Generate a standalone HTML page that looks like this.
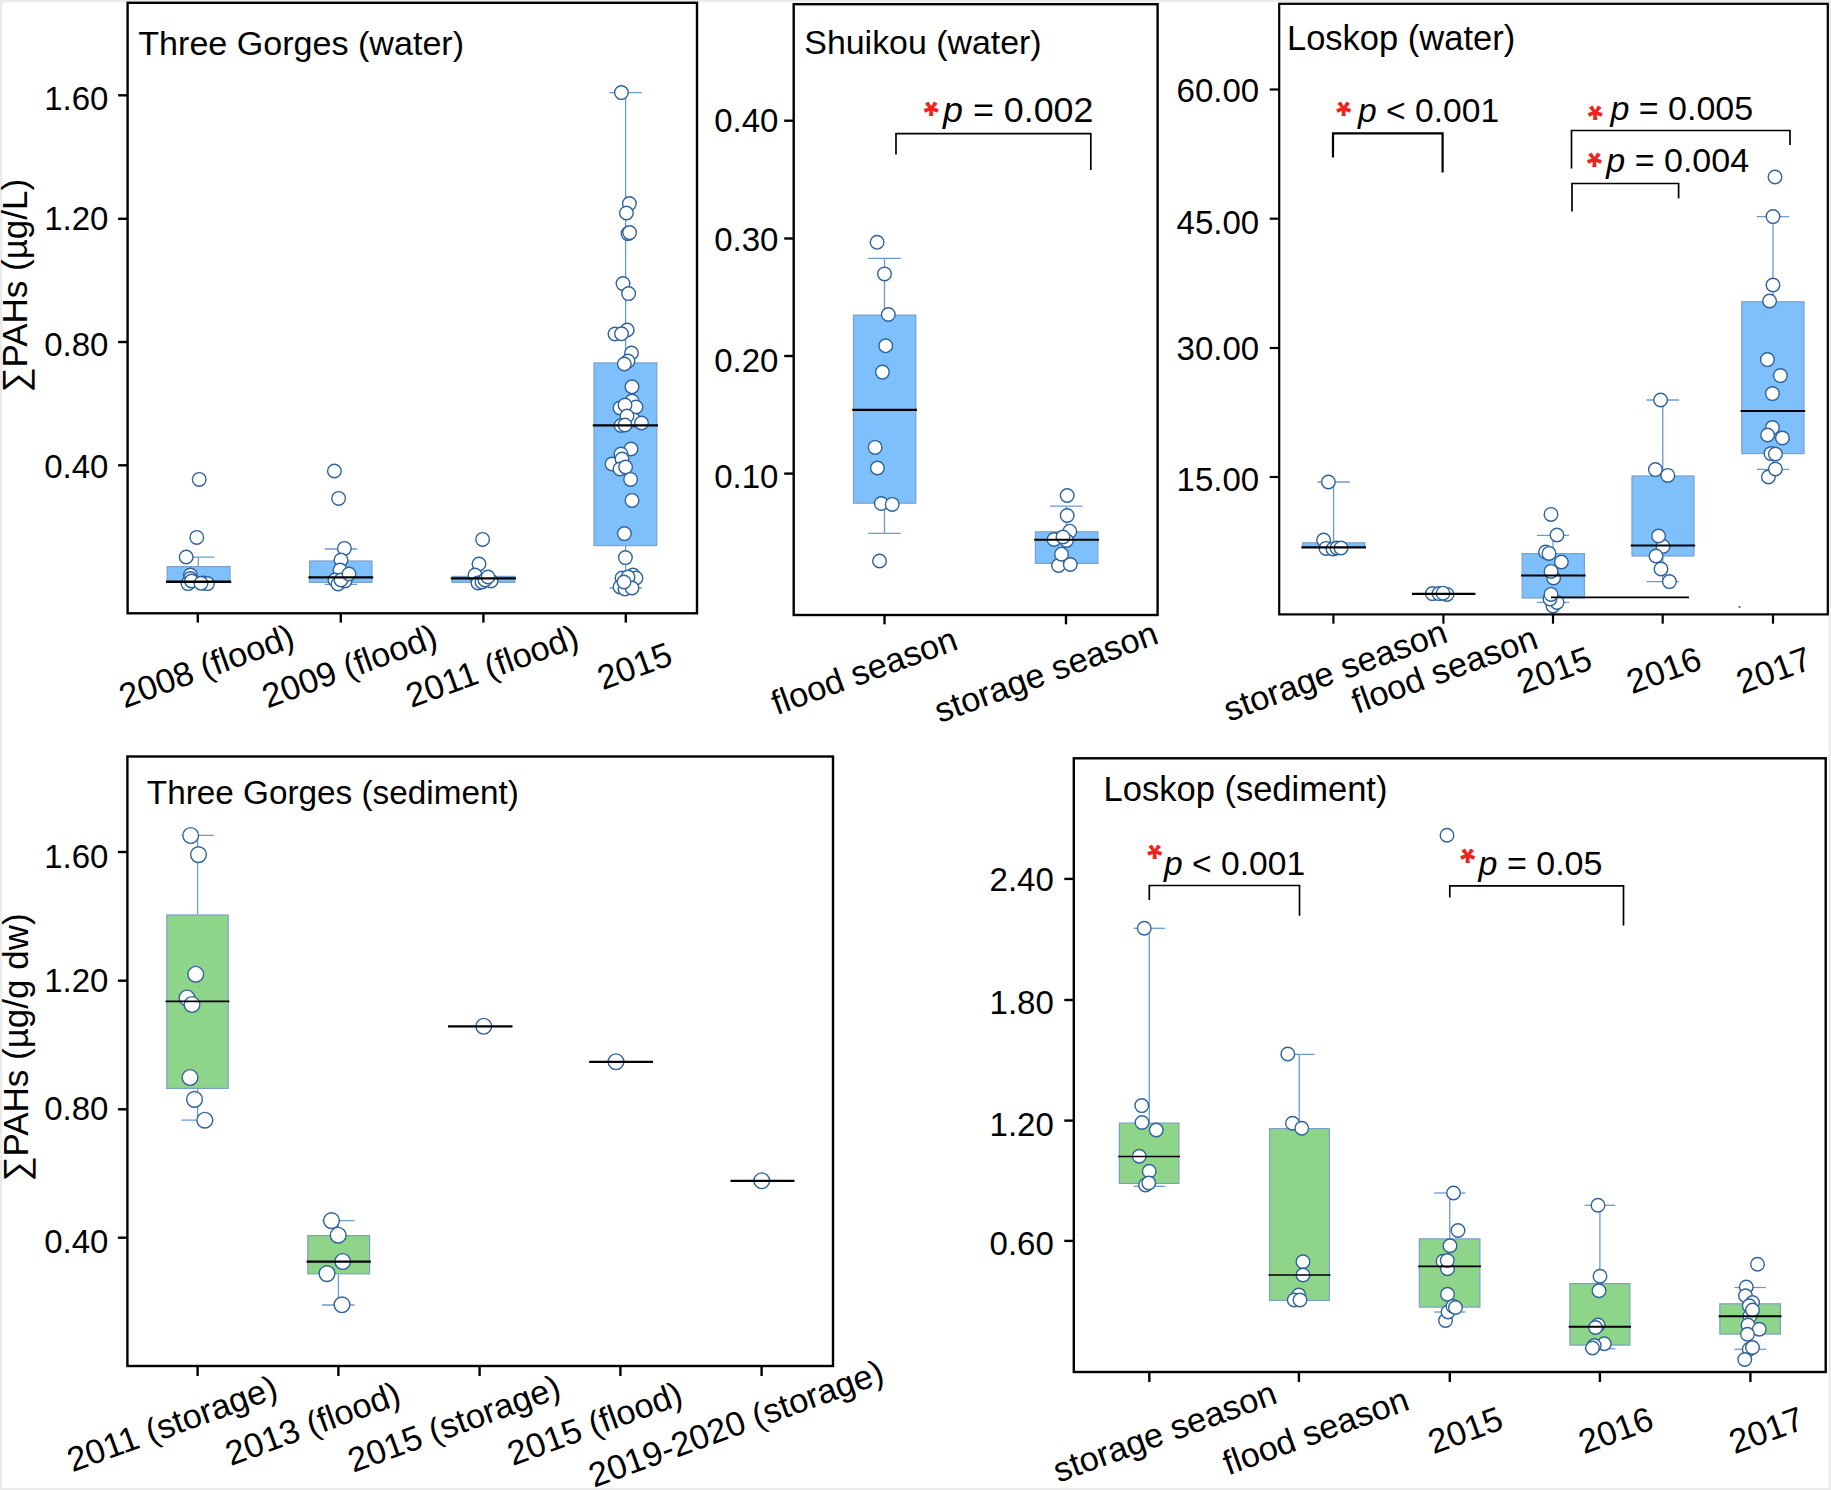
<!DOCTYPE html>
<html lang="en"><head><meta charset="utf-8"><title>PAHs in reservoirs</title>
<style>html,body{margin:0;padding:0;background:#fff}svg{display:block}text{font-family:"Liberation Sans", Arial, sans-serif;fill:#000}.pts circle{fill:#fff;stroke:#2f639a;stroke-width:1.4}.sp{letter-spacing:0px}.ast{fill:#f0231b;font-weight:bold}</style></head><body>
<svg width="1831" height="1490" viewBox="0 0 1831 1490">
<rect x="0" y="0" width="1831" height="1490" fill="#ebebeb"/>
<rect x="2.3" y="2.2" width="1826.1" height="1485.7" fill="#fff"/>
<g id="p1">
<rect x="167.20" y="566.60" width="62.80" height="15.80" fill="#7dc0fc" stroke="#7aa0cb" stroke-width="1.2"/>
<line x1="198.30" y1="566.00" x2="198.30" y2="557.20" stroke="#6a9ad2" stroke-width="1.3" stroke-linecap="butt"/>
<line x1="182.10" y1="557.20" x2="214.50" y2="557.20" stroke="#6a9ad2" stroke-width="1.3" stroke-linecap="butt"/>
<rect x="309.60" y="561.00" width="62.40" height="21.40" fill="#7dc0fc" stroke="#7aa0cb" stroke-width="1.2"/>
<line x1="340.80" y1="560.40" x2="340.80" y2="549.00" stroke="#6a9ad2" stroke-width="1.3" stroke-linecap="butt"/>
<line x1="324.60" y1="549.00" x2="357.00" y2="549.00" stroke="#6a9ad2" stroke-width="1.3" stroke-linecap="butt"/>
<line x1="340.80" y1="582.00" x2="340.80" y2="584.30" stroke="#6a9ad2" stroke-width="1.3" stroke-linecap="butt"/>
<line x1="324.60" y1="584.30" x2="357.00" y2="584.30" stroke="#6a9ad2" stroke-width="1.3" stroke-linecap="butt"/>
<rect x="452.00" y="576.40" width="62.80" height="6.00" fill="#7dc0fc" stroke="#7aa0cb" stroke-width="1.2"/>
<rect x="594.00" y="362.90" width="62.80" height="182.70" fill="#7dc0fc" stroke="#7aa0cb" stroke-width="1.2"/>
<line x1="625.60" y1="362.30" x2="625.60" y2="92.60" stroke="#6a9ad2" stroke-width="1.3" stroke-linecap="butt"/>
<line x1="609.40" y1="92.60" x2="641.80" y2="92.60" stroke="#6a9ad2" stroke-width="1.3" stroke-linecap="butt"/>
<line x1="625.60" y1="546.00" x2="625.60" y2="588.00" stroke="#6a9ad2" stroke-width="1.3" stroke-linecap="butt"/>
<line x1="609.40" y1="588.00" x2="641.80" y2="588.00" stroke="#6a9ad2" stroke-width="1.3" stroke-linecap="butt"/>
<g class="pts">
<circle cx="199.20" cy="479.40" r="6.8"/>
<circle cx="196.80" cy="537.40" r="6.8"/>
<circle cx="186.20" cy="557.00" r="6.8"/>
<circle cx="190.40" cy="575.00" r="6.8"/>
<circle cx="190.40" cy="578.50" r="6.8"/>
<circle cx="188.00" cy="583.60" r="6.8"/>
<circle cx="191.50" cy="581.00" r="6.8"/>
<circle cx="204.00" cy="583.00" r="6.8"/>
<circle cx="207.50" cy="583.60" r="6.8"/>
<circle cx="201.00" cy="583.30" r="6.8"/>
<circle cx="334.40" cy="471.00" r="6.8"/>
<circle cx="338.60" cy="498.40" r="6.8"/>
<circle cx="344.40" cy="548.40" r="6.8"/>
<circle cx="341.00" cy="560.00" r="6.8"/>
<circle cx="340.00" cy="570.00" r="6.8"/>
<circle cx="335.00" cy="580.00" r="6.8"/>
<circle cx="338.00" cy="584.00" r="6.8"/>
<circle cx="345.00" cy="581.00" r="6.8"/>
<circle cx="341.00" cy="580.00" r="6.8"/>
<circle cx="349.00" cy="574.00" r="6.8"/>
<circle cx="482.60" cy="539.40" r="6.8"/>
<circle cx="479.00" cy="564.00" r="6.8"/>
<circle cx="475.00" cy="575.00" r="6.8"/>
<circle cx="478.00" cy="583.00" r="6.8"/>
<circle cx="482.00" cy="582.00" r="6.8"/>
<circle cx="491.00" cy="581.00" r="6.8"/>
<circle cx="485.00" cy="580.00" r="6.8"/>
<circle cx="488.00" cy="577.00" r="6.8"/>
<circle cx="621.40" cy="92.60" r="6.8"/>
<circle cx="629.40" cy="203.60" r="6.8"/>
<circle cx="626.40" cy="213.00" r="6.8"/>
<circle cx="628.00" cy="233.60" r="6.8"/>
<circle cx="629.60" cy="232.60" r="6.8"/>
<circle cx="623.00" cy="283.60" r="6.8"/>
<circle cx="628.60" cy="293.60" r="6.8"/>
<circle cx="627.20" cy="330.00" r="6.8"/>
<circle cx="615.00" cy="334.00" r="6.8"/>
<circle cx="621.50" cy="333.80" r="6.8"/>
<circle cx="631.50" cy="353.00" r="6.8"/>
<circle cx="628.00" cy="361.00" r="6.8"/>
<circle cx="624.30" cy="364.00" r="6.8"/>
<circle cx="632.00" cy="386.80" r="6.8"/>
<circle cx="632.00" cy="401.00" r="6.8"/>
<circle cx="636.00" cy="407.00" r="6.8"/>
<circle cx="620.00" cy="408.00" r="6.8"/>
<circle cx="625.00" cy="405.00" r="6.8"/>
<circle cx="634.00" cy="420.00" r="6.8"/>
<circle cx="627.00" cy="416.00" r="6.8"/>
<circle cx="641.50" cy="423.00" r="6.8"/>
<circle cx="621.00" cy="425.50" r="6.8"/>
<circle cx="625.00" cy="425.00" r="6.8"/>
<circle cx="631.00" cy="449.00" r="6.8"/>
<circle cx="621.00" cy="454.00" r="6.8"/>
<circle cx="612.00" cy="464.00" r="6.8"/>
<circle cx="622.00" cy="459.00" r="6.8"/>
<circle cx="620.00" cy="469.00" r="6.8"/>
<circle cx="625.60" cy="467.00" r="6.8"/>
<circle cx="630.60" cy="479.40" r="6.8"/>
<circle cx="632.00" cy="500.40" r="6.8"/>
<circle cx="624.40" cy="533.60" r="6.8"/>
<circle cx="625.40" cy="557.60" r="6.8"/>
<circle cx="633.00" cy="575.00" r="6.8"/>
<circle cx="636.00" cy="578.00" r="6.8"/>
<circle cx="622.00" cy="578.00" r="6.8"/>
<circle cx="628.00" cy="577.00" r="6.8"/>
<circle cx="620.00" cy="587.00" r="6.8"/>
<circle cx="625.00" cy="589.00" r="6.8"/>
<circle cx="632.00" cy="588.00" r="6.8"/>
<circle cx="624.00" cy="582.00" r="6.8"/>
</g>
<line x1="166.00" y1="581.80" x2="231.20" y2="581.80" stroke="#000" stroke-width="2.4" stroke-linecap="butt"/>
<line x1="308.40" y1="577.40" x2="373.20" y2="577.40" stroke="#000" stroke-width="2.4" stroke-linecap="butt"/>
<line x1="450.80" y1="578.40" x2="516.00" y2="578.40" stroke="#000" stroke-width="2.4" stroke-linecap="butt"/>
<line x1="592.80" y1="425.40" x2="658.00" y2="425.40" stroke="#000" stroke-width="2.4" stroke-linecap="butt"/>
<rect x="127.60" y="2.80" width="569.40" height="610.50" fill="none" stroke="#000" stroke-width="2.4"/>
<line x1="118.10" y1="95.30" x2="127.60" y2="95.30" stroke="#000" stroke-width="2.4" stroke-linecap="butt"/>
<text class="tk" x="108.40" y="110.30" font-size="33" text-anchor="end" >1.60</text>
<line x1="118.10" y1="218.80" x2="127.60" y2="218.80" stroke="#000" stroke-width="2.4" stroke-linecap="butt"/>
<text class="tk" x="108.40" y="230.10" font-size="33" text-anchor="end" >1.20</text>
<line x1="118.10" y1="342.00" x2="127.60" y2="342.00" stroke="#000" stroke-width="2.4" stroke-linecap="butt"/>
<text class="tk" x="108.40" y="355.80" font-size="33" text-anchor="end" >0.80</text>
<line x1="118.10" y1="465.30" x2="127.60" y2="465.30" stroke="#000" stroke-width="2.4" stroke-linecap="butt"/>
<text class="tk" x="108.40" y="478.00" font-size="33" text-anchor="end" >0.40</text>
<line x1="197.80" y1="613.30" x2="197.80" y2="622.60" stroke="#000" stroke-width="2.4" stroke-linecap="butt"/>
<line x1="340.80" y1="613.30" x2="340.80" y2="622.60" stroke="#000" stroke-width="2.4" stroke-linecap="butt"/>
<line x1="483.40" y1="613.30" x2="483.40" y2="622.60" stroke="#000" stroke-width="2.4" stroke-linecap="butt"/>
<line x1="625.80" y1="613.30" x2="625.80" y2="622.60" stroke="#000" stroke-width="2.4" stroke-linecap="butt"/>
<text class="sp" x="138.30" y="55.00" font-size="34.1" text-anchor="start" >Three Gorges (water)</text>
<text class="sp xl" transform="translate(206.30,665.50) rotate(-20)" x="0" y="12.35" font-size="34.3" text-anchor="middle">2008 (flood)</text>
<text class="sp xl" transform="translate(349.30,665.50) rotate(-20)" x="0" y="12.35" font-size="34.3" text-anchor="middle">2009 (flood)</text>
<text class="sp xl" transform="translate(491.90,665.50) rotate(-20)" x="0" y="12.35" font-size="34.3" text-anchor="middle">2011 (flood)</text>
<text class="sp xl" transform="translate(634.30,665.50) rotate(-20)" x="0" y="12.35" font-size="34.3" text-anchor="middle">2015</text>
<text transform="translate(27,285.7) rotate(-90)" x="0" y="0" class="sp" font-size="35" text-anchor="middle">∑PAHs (µg/L)</text>
</g>
<g id="p2">
<rect x="853.50" y="315.10" width="62.30" height="188.10" fill="#7dc0fc" stroke="#7aa0cb" stroke-width="1.2"/>
<line x1="884.50" y1="314.50" x2="884.50" y2="258.30" stroke="#6a9ad2" stroke-width="1.3" stroke-linecap="butt"/>
<line x1="868.30" y1="258.30" x2="900.70" y2="258.30" stroke="#6a9ad2" stroke-width="1.3" stroke-linecap="butt"/>
<line x1="884.50" y1="503.50" x2="884.50" y2="533.30" stroke="#6a9ad2" stroke-width="1.3" stroke-linecap="butt"/>
<line x1="868.30" y1="533.30" x2="900.70" y2="533.30" stroke="#6a9ad2" stroke-width="1.3" stroke-linecap="butt"/>
<rect x="1035.40" y="531.80" width="62.50" height="31.60" fill="#7dc0fc" stroke="#7aa0cb" stroke-width="1.2"/>
<line x1="1066.30" y1="531.20" x2="1066.30" y2="506.20" stroke="#6a9ad2" stroke-width="1.3" stroke-linecap="butt"/>
<line x1="1050.10" y1="506.20" x2="1082.50" y2="506.20" stroke="#6a9ad2" stroke-width="1.3" stroke-linecap="butt"/>
<g class="pts">
<circle cx="877.10" cy="242.30" r="6.8"/>
<circle cx="884.50" cy="273.90" r="6.8"/>
<circle cx="888.30" cy="314.50" r="6.8"/>
<circle cx="885.70" cy="345.80" r="6.8"/>
<circle cx="882.40" cy="372.10" r="6.8"/>
<circle cx="875.10" cy="447.40" r="6.8"/>
<circle cx="877.40" cy="468.00" r="6.8"/>
<circle cx="881.30" cy="503.50" r="6.8"/>
<circle cx="892.20" cy="504.40" r="6.8"/>
<circle cx="879.50" cy="561.00" r="6.8"/>
<circle cx="1067.20" cy="495.50" r="6.8"/>
<circle cx="1067.20" cy="515.50" r="6.8"/>
<circle cx="1069.80" cy="531.20" r="6.8"/>
<circle cx="1054.00" cy="539.50" r="6.8"/>
<circle cx="1066.50" cy="540.50" r="6.8"/>
<circle cx="1063.00" cy="537.00" r="6.8"/>
<circle cx="1058.50" cy="565.50" r="6.8"/>
<circle cx="1070.30" cy="564.50" r="6.8"/>
<circle cx="1061.50" cy="554.20" r="6.8"/>
</g>
<line x1="852.30" y1="409.90" x2="917.00" y2="409.90" stroke="#000" stroke-width="2.1" stroke-linecap="butt"/>
<line x1="1034.20" y1="539.80" x2="1099.10" y2="539.80" stroke="#000" stroke-width="2.1" stroke-linecap="butt"/>
<rect x="793.70" y="4.20" width="363.90" height="610.80" fill="none" stroke="#000" stroke-width="2.4"/>
<line x1="784.20" y1="120.70" x2="793.70" y2="120.70" stroke="#000" stroke-width="2.4" stroke-linecap="butt"/>
<text class="tk" x="778.40" y="132.30" font-size="33" text-anchor="end" >0.40</text>
<line x1="784.20" y1="238.50" x2="793.70" y2="238.50" stroke="#000" stroke-width="2.4" stroke-linecap="butt"/>
<text class="tk" x="778.40" y="251.10" font-size="33" text-anchor="end" >0.30</text>
<line x1="784.20" y1="356.00" x2="793.70" y2="356.00" stroke="#000" stroke-width="2.4" stroke-linecap="butt"/>
<text class="tk" x="778.40" y="371.80" font-size="33" text-anchor="end" >0.20</text>
<line x1="784.20" y1="473.60" x2="793.70" y2="473.60" stroke="#000" stroke-width="2.4" stroke-linecap="butt"/>
<text class="tk" x="778.40" y="488.00" font-size="33" text-anchor="end" >0.10</text>
<line x1="884.50" y1="615.00" x2="884.50" y2="624.30" stroke="#000" stroke-width="2.4" stroke-linecap="butt"/>
<line x1="1066.00" y1="615.00" x2="1066.00" y2="624.30" stroke="#000" stroke-width="2.4" stroke-linecap="butt"/>
<text class="sp" x="804.30" y="54.20" font-size="33.9" text-anchor="start" >Shuikou (water)</text>
<text class="sp xl" transform="translate(864.00,670.30) rotate(-20)" x="0" y="12.35" font-size="34.3" text-anchor="middle">flood season</text>
<text class="sp xl" transform="translate(1045.80,671.30) rotate(-20)" x="0" y="12.35" font-size="34.3" text-anchor="middle">storage season</text>
<text class="ast" transform="translate(931.20,108.60) rotate(180)" x="0" y="19.33" font-size="38.5" text-anchor="middle">*</text>
<text class="sp" x="943.10" y="122.00" font-size="35.8"><tspan font-style="italic">p</tspan> = 0.002</text>
<polyline points="896.00,154.60 896.00,133.60 1090.80,133.60 1090.80,170.10" fill="none" stroke="#000" stroke-width="1.7" stroke-linejoin="miter"/>
</g>
<g id="p3">
<rect x="1302.60" y="542.80" width="62.20" height="4.60" fill="#7dc0fc" stroke="#7aa0cb" stroke-width="1.2"/>
<line x1="1333.60" y1="542.40" x2="1333.60" y2="482.00" stroke="#6a9ad2" stroke-width="1.3" stroke-linecap="butt"/>
<line x1="1317.40" y1="482.00" x2="1349.80" y2="482.00" stroke="#6a9ad2" stroke-width="1.3" stroke-linecap="butt"/>
<rect x="1522.20" y="553.60" width="62.20" height="44.40" fill="#7dc0fc" stroke="#7aa0cb" stroke-width="1.2"/>
<line x1="1553.00" y1="553.00" x2="1553.00" y2="535.40" stroke="#6a9ad2" stroke-width="1.3" stroke-linecap="butt"/>
<line x1="1536.80" y1="535.40" x2="1569.20" y2="535.40" stroke="#6a9ad2" stroke-width="1.3" stroke-linecap="butt"/>
<line x1="1553.00" y1="598.00" x2="1553.00" y2="602.40" stroke="#6a9ad2" stroke-width="1.3" stroke-linecap="butt"/>
<line x1="1536.80" y1="602.40" x2="1569.20" y2="602.40" stroke="#6a9ad2" stroke-width="1.3" stroke-linecap="butt"/>
<rect x="1632.00" y="476.00" width="62.00" height="80.00" fill="#7dc0fc" stroke="#7aa0cb" stroke-width="1.2"/>
<line x1="1662.80" y1="475.40" x2="1662.80" y2="400.00" stroke="#6a9ad2" stroke-width="1.3" stroke-linecap="butt"/>
<line x1="1646.60" y1="400.00" x2="1679.00" y2="400.00" stroke="#6a9ad2" stroke-width="1.3" stroke-linecap="butt"/>
<line x1="1662.80" y1="556.00" x2="1662.80" y2="581.60" stroke="#6a9ad2" stroke-width="1.3" stroke-linecap="butt"/>
<line x1="1646.60" y1="581.60" x2="1679.00" y2="581.60" stroke="#6a9ad2" stroke-width="1.3" stroke-linecap="butt"/>
<rect x="1741.80" y="301.80" width="62.20" height="151.80" fill="#7dc0fc" stroke="#7aa0cb" stroke-width="1.2"/>
<line x1="1773.00" y1="301.40" x2="1773.00" y2="216.60" stroke="#6a9ad2" stroke-width="1.3" stroke-linecap="butt"/>
<line x1="1756.80" y1="216.60" x2="1789.20" y2="216.60" stroke="#6a9ad2" stroke-width="1.3" stroke-linecap="butt"/>
<line x1="1773.00" y1="454.00" x2="1773.00" y2="469.40" stroke="#6a9ad2" stroke-width="1.3" stroke-linecap="butt"/>
<line x1="1756.80" y1="469.40" x2="1789.20" y2="469.40" stroke="#6a9ad2" stroke-width="1.3" stroke-linecap="butt"/>
<g class="pts">
<circle cx="1328.40" cy="482.00" r="6.8"/>
<circle cx="1323.60" cy="540.00" r="6.8"/>
<circle cx="1326.00" cy="548.40" r="6.8"/>
<circle cx="1333.00" cy="549.00" r="6.8"/>
<circle cx="1337.00" cy="548.00" r="6.8"/>
<circle cx="1341.00" cy="548.00" r="6.8"/>
<circle cx="1432.40" cy="593.60" r="6.8"/>
<circle cx="1439.00" cy="593.60" r="6.8"/>
<circle cx="1447.00" cy="594.40" r="6.8"/>
<circle cx="1443.00" cy="593.20" r="6.8"/>
<circle cx="1551.00" cy="514.40" r="6.8"/>
<circle cx="1557.00" cy="535.00" r="6.8"/>
<circle cx="1545.60" cy="552.00" r="6.8"/>
<circle cx="1549.00" cy="553.40" r="6.8"/>
<circle cx="1561.40" cy="562.00" r="6.8"/>
<circle cx="1553.60" cy="578.00" r="6.8"/>
<circle cx="1551.00" cy="571.40" r="6.8"/>
<circle cx="1553.00" cy="606.00" r="6.8"/>
<circle cx="1557.00" cy="602.40" r="6.8"/>
<circle cx="1550.00" cy="599.00" r="6.8"/>
<circle cx="1551.00" cy="594.40" r="6.8"/>
<circle cx="1660.60" cy="400.00" r="6.8"/>
<circle cx="1655.40" cy="469.60" r="6.8"/>
<circle cx="1667.80" cy="475.40" r="6.8"/>
<circle cx="1663.00" cy="546.40" r="6.8"/>
<circle cx="1658.60" cy="536.00" r="6.8"/>
<circle cx="1656.00" cy="556.00" r="6.8"/>
<circle cx="1661.00" cy="569.00" r="6.8"/>
<circle cx="1669.40" cy="581.60" r="6.8"/>
<circle cx="1775.00" cy="177.00" r="6.8"/>
<circle cx="1773.00" cy="216.60" r="6.8"/>
<circle cx="1773.00" cy="285.00" r="6.8"/>
<circle cx="1769.60" cy="301.00" r="6.8"/>
<circle cx="1767.40" cy="359.60" r="6.8"/>
<circle cx="1780.40" cy="375.60" r="6.8"/>
<circle cx="1772.40" cy="393.60" r="6.8"/>
<circle cx="1772.40" cy="427.60" r="6.8"/>
<circle cx="1767.60" cy="435.00" r="6.8"/>
<circle cx="1782.40" cy="438.00" r="6.8"/>
<circle cx="1771.00" cy="453.60" r="6.8"/>
<circle cx="1775.40" cy="454.00" r="6.8"/>
<circle cx="1768.40" cy="477.00" r="6.8"/>
<circle cx="1775.40" cy="469.00" r="6.8"/>
</g>
<line x1="1301.40" y1="547.40" x2="1366.00" y2="547.40" stroke="#000" stroke-width="2.4" stroke-linecap="butt"/>
<line x1="1412.00" y1="593.80" x2="1475.40" y2="593.80" stroke="#000" stroke-width="2.2" stroke-linecap="butt"/>
<line x1="1521.00" y1="575.40" x2="1585.60" y2="575.40" stroke="#000" stroke-width="2.0" stroke-linecap="butt"/>
<line x1="1630.80" y1="545.60" x2="1695.20" y2="545.60" stroke="#000" stroke-width="2.0" stroke-linecap="butt"/>
<line x1="1740.60" y1="411.00" x2="1805.20" y2="411.00" stroke="#000" stroke-width="1.8" stroke-linecap="butt"/>
<line x1="1551.00" y1="597.40" x2="1689.00" y2="597.40" stroke="#000" stroke-width="1.7" stroke-linecap="butt"/>
<line x1="1738.60" y1="607.00" x2="1740.40" y2="607.00" stroke="#000" stroke-width="1.2" stroke-linecap="butt"/>
<rect x="1279.20" y="3.80" width="548.60" height="610.60" fill="none" stroke="#000" stroke-width="2.2"/>
<line x1="1269.70" y1="89.50" x2="1279.20" y2="89.50" stroke="#000" stroke-width="2.2" stroke-linecap="butt"/>
<text class="tk" x="1259.20" y="102.30" font-size="33" text-anchor="end" >60.00</text>
<line x1="1269.70" y1="218.70" x2="1279.20" y2="218.70" stroke="#000" stroke-width="2.2" stroke-linecap="butt"/>
<text class="tk" x="1259.20" y="233.70" font-size="33" text-anchor="end" >45.00</text>
<line x1="1269.70" y1="348.00" x2="1279.20" y2="348.00" stroke="#000" stroke-width="2.2" stroke-linecap="butt"/>
<text class="tk" x="1259.20" y="360.00" font-size="33" text-anchor="end" >30.00</text>
<line x1="1269.70" y1="477.00" x2="1279.20" y2="477.00" stroke="#000" stroke-width="2.2" stroke-linecap="butt"/>
<text class="tk" x="1259.20" y="491.00" font-size="33" text-anchor="end" >15.00</text>
<line x1="1333.40" y1="614.40" x2="1333.40" y2="623.70" stroke="#000" stroke-width="2.2" stroke-linecap="butt"/>
<line x1="1443.40" y1="614.40" x2="1443.40" y2="623.70" stroke="#000" stroke-width="2.2" stroke-linecap="butt"/>
<line x1="1553.00" y1="614.40" x2="1553.00" y2="623.70" stroke="#000" stroke-width="2.2" stroke-linecap="butt"/>
<line x1="1662.70" y1="614.40" x2="1662.70" y2="623.70" stroke="#000" stroke-width="2.2" stroke-linecap="butt"/>
<line x1="1773.00" y1="614.40" x2="1773.00" y2="623.70" stroke="#000" stroke-width="2.2" stroke-linecap="butt"/>
<text class="sp" x="1287.00" y="50.00" font-size="34.5" text-anchor="start" >Loskop (water)</text>
<text class="sp xl" transform="translate(1335.00,670.00) rotate(-20)" x="0" y="12.35" font-size="34.3" text-anchor="middle">storage season</text>
<text class="sp xl" transform="translate(1444.20,669.00) rotate(-20)" x="0" y="12.35" font-size="34.3" text-anchor="middle">flood season</text>
<text class="sp xl" transform="translate(1554.00,669.70) rotate(-20)" x="0" y="12.35" font-size="34.3" text-anchor="middle">2015</text>
<text class="sp xl" transform="translate(1663.60,669.70) rotate(-20)" x="0" y="12.35" font-size="34.3" text-anchor="middle">2016</text>
<text class="sp xl" transform="translate(1773.50,669.70) rotate(-20)" x="0" y="12.35" font-size="34.3" text-anchor="middle">2017</text>
<text class="ast" transform="translate(1343.80,108.80) rotate(180)" x="0" y="19.33" font-size="38.5" text-anchor="middle">*</text>
<text class="sp" x="1358.10" y="122.00" font-size="33.6"><tspan font-style="italic">p</tspan> &lt; 0.001</text>
<polyline points="1333.00,157.60 1333.00,133.40 1442.60,133.40 1442.60,172.40" fill="none" stroke="#000" stroke-width="2.2" stroke-linejoin="miter"/>
<text class="ast" transform="translate(1595.20,112.80) rotate(180)" x="0" y="19.33" font-size="38.5" text-anchor="middle">*</text>
<text class="sp" x="1610.40" y="120.00" font-size="34"><tspan font-style="italic">p</tspan> = 0.005</text>
<polyline points="1571.50,168.60 1571.50,130.50 1790.00,130.50 1790.00,145.00" fill="none" stroke="#000" stroke-width="1.7" stroke-linejoin="miter"/>
<text class="ast" transform="translate(1594.50,159.70) rotate(180)" x="0" y="19.33" font-size="38.5" text-anchor="middle">*</text>
<text class="sp" x="1606.30" y="172.00" font-size="34"><tspan font-style="italic">p</tspan> = 0.004</text>
<polyline points="1572.00,211.60 1572.00,183.50 1678.60,183.50 1678.60,198.60" fill="none" stroke="#000" stroke-width="1.7" stroke-linejoin="miter"/>
</g>
<g id="p4">
<rect x="166.80" y="915.00" width="61.40" height="173.40" fill="#8ed58a" stroke="#7aa0cb" stroke-width="1.2"/>
<line x1="197.60" y1="914.50" x2="197.60" y2="835.40" stroke="#6a9ad2" stroke-width="1.3" stroke-linecap="butt"/>
<line x1="181.40" y1="835.40" x2="213.80" y2="835.40" stroke="#6a9ad2" stroke-width="1.3" stroke-linecap="butt"/>
<line x1="197.60" y1="1088.50" x2="197.60" y2="1120.20" stroke="#6a9ad2" stroke-width="1.3" stroke-linecap="butt"/>
<line x1="181.40" y1="1120.20" x2="213.80" y2="1120.20" stroke="#6a9ad2" stroke-width="1.3" stroke-linecap="butt"/>
<rect x="307.80" y="1235.60" width="61.80" height="38.20" fill="#8ed58a" stroke="#7aa0cb" stroke-width="1.2"/>
<line x1="338.40" y1="1235.00" x2="338.40" y2="1220.60" stroke="#6a9ad2" stroke-width="1.3" stroke-linecap="butt"/>
<line x1="322.20" y1="1220.60" x2="354.60" y2="1220.60" stroke="#6a9ad2" stroke-width="1.3" stroke-linecap="butt"/>
<line x1="338.40" y1="1274.00" x2="338.40" y2="1305.00" stroke="#6a9ad2" stroke-width="1.3" stroke-linecap="butt"/>
<line x1="322.20" y1="1305.00" x2="354.60" y2="1305.00" stroke="#6a9ad2" stroke-width="1.3" stroke-linecap="butt"/>
<g class="pts">
<circle cx="190.70" cy="835.50" r="7.85"/>
<circle cx="198.50" cy="854.60" r="7.85"/>
<circle cx="195.75" cy="974.25" r="7.85"/>
<circle cx="187.00" cy="998.00" r="7.85"/>
<circle cx="192.00" cy="1004.50" r="7.85"/>
<circle cx="190.00" cy="1077.50" r="7.85"/>
<circle cx="194.50" cy="1099.40" r="7.85"/>
<circle cx="204.80" cy="1120.20" r="7.85"/>
<circle cx="331.50" cy="1220.60" r="7.85"/>
<circle cx="338.20" cy="1235.20" r="7.85"/>
<circle cx="342.70" cy="1261.50" r="7.85"/>
<circle cx="327.00" cy="1273.60" r="7.85"/>
<circle cx="342.00" cy="1304.80" r="7.85"/>
<circle cx="483.75" cy="1026.25" r="7.85"/>
<circle cx="616.00" cy="1061.75" r="7.85"/>
<circle cx="761.75" cy="1180.75" r="7.85"/>
</g>
<line x1="165.60" y1="1001.30" x2="229.40" y2="1001.30" stroke="#000" stroke-width="1.8" stroke-linecap="butt"/>
<line x1="306.60" y1="1261.60" x2="370.80" y2="1261.60" stroke="#000" stroke-width="2.4" stroke-linecap="butt"/>
<line x1="448.00" y1="1026.30" x2="512.50" y2="1026.30" stroke="#000" stroke-width="2.2" stroke-linecap="butt"/>
<line x1="589.20" y1="1061.80" x2="653.00" y2="1061.80" stroke="#000" stroke-width="2.2" stroke-linecap="butt"/>
<line x1="730.50" y1="1180.80" x2="794.50" y2="1180.80" stroke="#000" stroke-width="2.2" stroke-linecap="butt"/>
<rect x="127.40" y="756.50" width="705.60" height="609.50" fill="none" stroke="#000" stroke-width="2.4"/>
<line x1="117.90" y1="852.00" x2="127.40" y2="852.00" stroke="#000" stroke-width="2.4" stroke-linecap="butt"/>
<text class="tk" x="108.40" y="867.80" font-size="33" text-anchor="end" >1.60</text>
<line x1="117.90" y1="980.70" x2="127.40" y2="980.70" stroke="#000" stroke-width="2.4" stroke-linecap="butt"/>
<text class="tk" x="108.40" y="991.60" font-size="33" text-anchor="end" >1.20</text>
<line x1="117.90" y1="1109.30" x2="127.40" y2="1109.30" stroke="#000" stroke-width="2.4" stroke-linecap="butt"/>
<text class="tk" x="108.40" y="1119.90" font-size="33" text-anchor="end" >0.80</text>
<line x1="117.90" y1="1237.70" x2="127.40" y2="1237.70" stroke="#000" stroke-width="2.4" stroke-linecap="butt"/>
<text class="tk" x="108.40" y="1252.70" font-size="33" text-anchor="end" >0.40</text>
<line x1="197.60" y1="1366.00" x2="197.60" y2="1376.00" stroke="#000" stroke-width="2.4" stroke-linecap="butt"/>
<line x1="338.40" y1="1366.00" x2="338.40" y2="1376.00" stroke="#000" stroke-width="2.4" stroke-linecap="butt"/>
<line x1="479.60" y1="1366.00" x2="479.60" y2="1376.00" stroke="#000" stroke-width="2.4" stroke-linecap="butt"/>
<line x1="620.40" y1="1366.00" x2="620.40" y2="1376.00" stroke="#000" stroke-width="2.4" stroke-linecap="butt"/>
<line x1="761.60" y1="1366.00" x2="761.60" y2="1376.00" stroke="#000" stroke-width="2.4" stroke-linecap="butt"/>
<text class="sp" x="146.80" y="803.80" font-size="33.3" text-anchor="start" >Three Gorges (sediment)</text>
<text class="sp xl" transform="translate(171.80,1423.00) rotate(-20)" x="0" y="12.35" font-size="34.3" text-anchor="middle">2011 (storage)</text>
<text class="sp xl" transform="translate(312.60,1423.00) rotate(-20)" x="0" y="12.35" font-size="34.3" text-anchor="middle">2013 (flood)</text>
<text class="sp xl" transform="translate(453.80,1423.00) rotate(-20)" x="0" y="12.35" font-size="34.3" text-anchor="middle">2015 (storage)</text>
<text class="sp xl" transform="translate(594.60,1423.00) rotate(-20)" x="0" y="12.35" font-size="34.3" text-anchor="middle">2015 (flood)</text>
<text class="sp xl" transform="translate(735.80,1423.00) rotate(-20)" x="0" y="12.35" font-size="34.3" text-anchor="middle">2019-2020 (storage)</text>
<text transform="translate(28,1047.5) rotate(-90)" x="0" y="0" class="sp" font-size="35" text-anchor="middle">∑PAHs (µg/g dw)</text>
</g>
<g id="p5">
<rect x="1119.35" y="1123.10" width="59.55" height="60.30" fill="#8ed58a" stroke="#7aa0cb" stroke-width="1.2"/>
<line x1="1149.30" y1="1122.50" x2="1149.30" y2="928.30" stroke="#6a9ad2" stroke-width="1.3" stroke-linecap="butt"/>
<line x1="1133.70" y1="928.30" x2="1164.90" y2="928.30" stroke="#6a9ad2" stroke-width="1.3" stroke-linecap="butt"/>
<line x1="1149.30" y1="1183.50" x2="1149.30" y2="1186.30" stroke="#6a9ad2" stroke-width="1.3" stroke-linecap="butt"/>
<line x1="1133.70" y1="1186.30" x2="1164.90" y2="1186.30" stroke="#6a9ad2" stroke-width="1.3" stroke-linecap="butt"/>
<rect x="1269.60" y="1128.60" width="59.80" height="171.80" fill="#8ed58a" stroke="#7aa0cb" stroke-width="1.2"/>
<line x1="1299.20" y1="1128.30" x2="1299.20" y2="1054.40" stroke="#6a9ad2" stroke-width="1.3" stroke-linecap="butt"/>
<line x1="1283.80" y1="1054.40" x2="1314.60" y2="1054.40" stroke="#6a9ad2" stroke-width="1.3" stroke-linecap="butt"/>
<rect x="1419.35" y="1238.85" width="60.55" height="68.25" fill="#8ed58a" stroke="#7aa0cb" stroke-width="1.2"/>
<line x1="1449.75" y1="1238.30" x2="1449.75" y2="1193.00" stroke="#6a9ad2" stroke-width="1.3" stroke-linecap="butt"/>
<line x1="1434.15" y1="1193.00" x2="1465.35" y2="1193.00" stroke="#6a9ad2" stroke-width="1.3" stroke-linecap="butt"/>
<line x1="1449.75" y1="1307.50" x2="1449.75" y2="1312.00" stroke="#6a9ad2" stroke-width="1.3" stroke-linecap="butt"/>
<line x1="1434.15" y1="1312.00" x2="1465.35" y2="1312.00" stroke="#6a9ad2" stroke-width="1.3" stroke-linecap="butt"/>
<rect x="1569.85" y="1283.60" width="60.05" height="61.50" fill="#8ed58a" stroke="#7aa0cb" stroke-width="1.2"/>
<line x1="1599.90" y1="1283.00" x2="1599.90" y2="1205.30" stroke="#6a9ad2" stroke-width="1.3" stroke-linecap="butt"/>
<line x1="1584.40" y1="1205.30" x2="1615.40" y2="1205.30" stroke="#6a9ad2" stroke-width="1.3" stroke-linecap="butt"/>
<line x1="1599.90" y1="1345.50" x2="1599.90" y2="1348.80" stroke="#6a9ad2" stroke-width="1.3" stroke-linecap="butt"/>
<line x1="1584.40" y1="1348.80" x2="1615.40" y2="1348.80" stroke="#6a9ad2" stroke-width="1.3" stroke-linecap="butt"/>
<rect x="1719.85" y="1303.80" width="60.55" height="30.30" fill="#8ed58a" stroke="#7aa0cb" stroke-width="1.2"/>
<line x1="1750.20" y1="1303.30" x2="1750.20" y2="1287.50" stroke="#6a9ad2" stroke-width="1.3" stroke-linecap="butt"/>
<line x1="1734.40" y1="1287.50" x2="1766.00" y2="1287.50" stroke="#6a9ad2" stroke-width="1.3" stroke-linecap="butt"/>
<line x1="1750.20" y1="1334.50" x2="1750.20" y2="1349.30" stroke="#6a9ad2" stroke-width="1.3" stroke-linecap="butt"/>
<line x1="1734.40" y1="1349.30" x2="1766.00" y2="1349.30" stroke="#6a9ad2" stroke-width="1.3" stroke-linecap="butt"/>
<g class="pts">
<circle cx="1144.25" cy="928.25" r="6.8"/>
<circle cx="1141.75" cy="1105.60" r="6.8"/>
<circle cx="1142.00" cy="1122.50" r="6.8"/>
<circle cx="1156.25" cy="1130.00" r="6.8"/>
<circle cx="1139.25" cy="1156.25" r="6.8"/>
<circle cx="1149.25" cy="1171.25" r="6.8"/>
<circle cx="1145.50" cy="1185.00" r="6.8"/>
<circle cx="1148.75" cy="1183.00" r="6.8"/>
<circle cx="1287.80" cy="1054.00" r="6.8"/>
<circle cx="1292.50" cy="1123.25" r="6.8"/>
<circle cx="1301.75" cy="1128.25" r="6.8"/>
<circle cx="1303.00" cy="1261.75" r="6.8"/>
<circle cx="1303.00" cy="1275.00" r="6.8"/>
<circle cx="1298.75" cy="1295.00" r="6.8"/>
<circle cx="1294.25" cy="1300.00" r="6.8"/>
<circle cx="1300.00" cy="1300.00" r="6.8"/>
<circle cx="1447.00" cy="835.25" r="6.8"/>
<circle cx="1453.50" cy="1193.00" r="6.8"/>
<circle cx="1458.00" cy="1230.50" r="6.8"/>
<circle cx="1450.00" cy="1245.75" r="6.8"/>
<circle cx="1443.00" cy="1261.25" r="6.8"/>
<circle cx="1447.50" cy="1268.75" r="6.8"/>
<circle cx="1447.25" cy="1260.50" r="6.8"/>
<circle cx="1447.50" cy="1294.25" r="6.8"/>
<circle cx="1445.50" cy="1320.50" r="6.8"/>
<circle cx="1448.00" cy="1312.00" r="6.8"/>
<circle cx="1453.00" cy="1306.25" r="6.8"/>
<circle cx="1455.50" cy="1307.50" r="6.8"/>
<circle cx="1598.00" cy="1205.25" r="6.8"/>
<circle cx="1600.00" cy="1276.25" r="6.8"/>
<circle cx="1599.00" cy="1290.75" r="6.8"/>
<circle cx="1598.00" cy="1325.00" r="6.8"/>
<circle cx="1595.50" cy="1327.50" r="6.8"/>
<circle cx="1604.25" cy="1343.75" r="6.8"/>
<circle cx="1594.25" cy="1345.50" r="6.8"/>
<circle cx="1592.50" cy="1348.00" r="6.8"/>
<circle cx="1757.50" cy="1264.25" r="6.8"/>
<circle cx="1746.25" cy="1287.00" r="6.8"/>
<circle cx="1745.50" cy="1295.75" r="6.8"/>
<circle cx="1752.50" cy="1302.50" r="6.8"/>
<circle cx="1749.25" cy="1305.75" r="6.8"/>
<circle cx="1749.75" cy="1316.25" r="6.8"/>
<circle cx="1752.50" cy="1310.00" r="6.8"/>
<circle cx="1748.00" cy="1325.00" r="6.8"/>
<circle cx="1759.25" cy="1329.25" r="6.8"/>
<circle cx="1747.50" cy="1334.25" r="6.8"/>
<circle cx="1749.25" cy="1349.25" r="6.8"/>
<circle cx="1752.50" cy="1347.50" r="6.8"/>
<circle cx="1744.75" cy="1359.50" r="6.8"/>
</g>
<line x1="1118.20" y1="1156.50" x2="1180.00" y2="1156.50" stroke="#000" stroke-width="1.7" stroke-linecap="butt"/>
<line x1="1268.50" y1="1275.00" x2="1330.50" y2="1275.00" stroke="#000" stroke-width="1.7" stroke-linecap="butt"/>
<line x1="1418.20" y1="1266.30" x2="1481.00" y2="1266.30" stroke="#000" stroke-width="1.8" stroke-linecap="butt"/>
<line x1="1568.70" y1="1326.80" x2="1631.00" y2="1326.80" stroke="#000" stroke-width="1.9" stroke-linecap="butt"/>
<line x1="1718.70" y1="1316.30" x2="1781.50" y2="1316.30" stroke="#000" stroke-width="1.9" stroke-linecap="butt"/>
<rect x="1073.80" y="758.30" width="751.90" height="613.70" fill="none" stroke="#000" stroke-width="2.4"/>
<line x1="1064.30" y1="878.90" x2="1073.80" y2="878.90" stroke="#000" stroke-width="2.4" stroke-linecap="butt"/>
<text class="tk" x="1053.80" y="891.30" font-size="33" text-anchor="end" >2.40</text>
<line x1="1064.30" y1="1000.00" x2="1073.80" y2="1000.00" stroke="#000" stroke-width="2.4" stroke-linecap="butt"/>
<text class="tk" x="1053.80" y="1013.80" font-size="33" text-anchor="end" >1.80</text>
<line x1="1064.30" y1="1120.60" x2="1073.80" y2="1120.60" stroke="#000" stroke-width="2.4" stroke-linecap="butt"/>
<text class="tk" x="1053.80" y="1136.30" font-size="33" text-anchor="end" >1.20</text>
<line x1="1064.30" y1="1240.90" x2="1073.80" y2="1240.90" stroke="#000" stroke-width="2.4" stroke-linecap="butt"/>
<text class="tk" x="1053.80" y="1254.60" font-size="33" text-anchor="end" >0.60</text>
<line x1="1149.30" y1="1372.00" x2="1149.30" y2="1382.00" stroke="#000" stroke-width="2.4" stroke-linecap="butt"/>
<line x1="1298.90" y1="1372.00" x2="1298.90" y2="1382.00" stroke="#000" stroke-width="2.4" stroke-linecap="butt"/>
<line x1="1449.80" y1="1372.00" x2="1449.80" y2="1382.00" stroke="#000" stroke-width="2.4" stroke-linecap="butt"/>
<line x1="1599.90" y1="1372.00" x2="1599.90" y2="1382.00" stroke="#000" stroke-width="2.4" stroke-linecap="butt"/>
<line x1="1750.40" y1="1372.00" x2="1750.40" y2="1382.00" stroke="#000" stroke-width="2.4" stroke-linecap="butt"/>
<text class="sp" x="1103.60" y="801.30" font-size="34.5" text-anchor="start" >Loskop (sediment)</text>
<text class="sp xl" transform="translate(1164.50,1431.00) rotate(-20)" x="0" y="12.35" font-size="34.3" text-anchor="middle">storage season</text>
<text class="sp xl" transform="translate(1315.50,1430.50) rotate(-20)" x="0" y="12.35" font-size="34.3" text-anchor="middle">flood season</text>
<text class="sp xl" transform="translate(1465.20,1429.60) rotate(-20)" x="0" y="12.35" font-size="34.3" text-anchor="middle">2015</text>
<text class="sp xl" transform="translate(1615.60,1429.60) rotate(-20)" x="0" y="12.35" font-size="34.3" text-anchor="middle">2016</text>
<text class="sp xl" transform="translate(1766.20,1429.60) rotate(-20)" x="0" y="12.35" font-size="34.3" text-anchor="middle">2017</text>
<text class="ast" transform="translate(1154.80,851.60) rotate(180)" x="0" y="19.33" font-size="38.5" text-anchor="middle">*</text>
<text class="sp" x="1164.10" y="875.00" font-size="33.6"><tspan font-style="italic">p</tspan> &lt; 0.001</text>
<polyline points="1149.30,900.00 1149.30,885.50 1299.50,885.50 1299.50,915.80" fill="none" stroke="#000" stroke-width="1.7" stroke-linejoin="miter"/>
<text class="ast" transform="translate(1467.80,855.20) rotate(180)" x="0" y="19.33" font-size="38.5" text-anchor="middle">*</text>
<text class="sp" x="1478.60" y="875.00" font-size="34"><tspan font-style="italic">p</tspan> = 0.05</text>
<polyline points="1449.80,897.50 1449.80,885.80 1623.50,885.80 1623.50,925.50" fill="none" stroke="#000" stroke-width="1.7" stroke-linejoin="miter"/>
</g>
</svg></body></html>
